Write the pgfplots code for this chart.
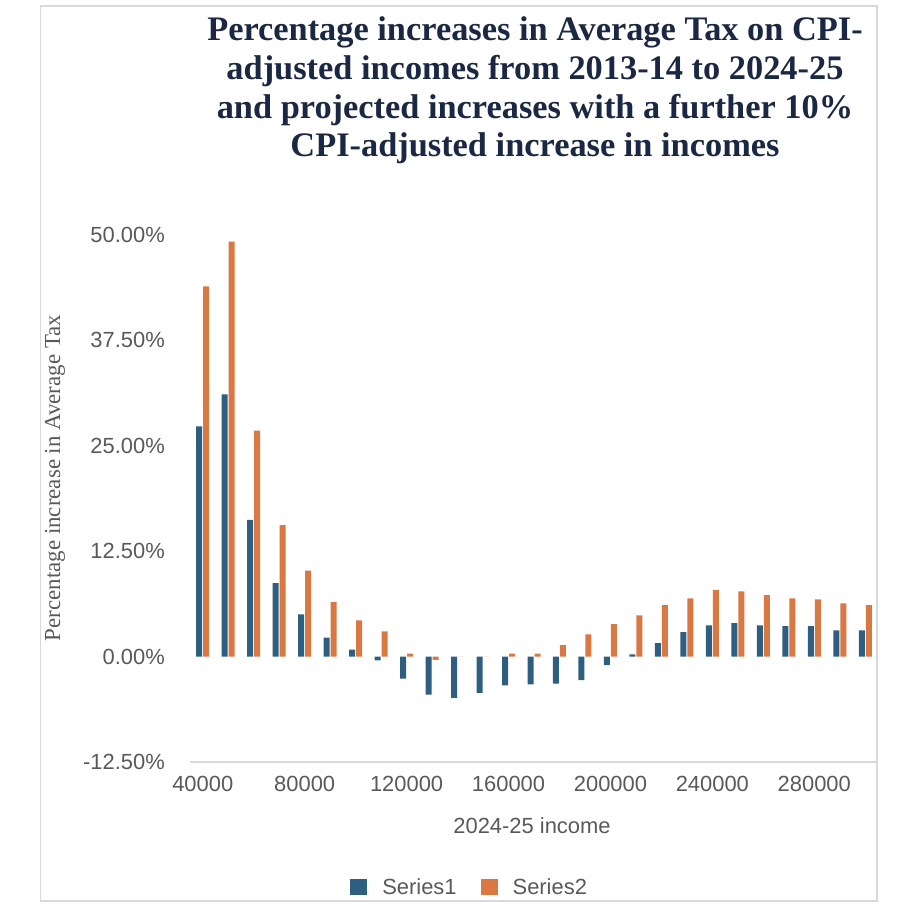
\documentclass[border=0pt]{standalone}
\usepackage{fontspec}
\setmainfont{Liberation Serif}
\newfontfamily\arial{Liberation Sans}
\usepackage{pgfplots}
\pgfplotsset{compat=1.18}
\usepackage{pgfplotstable}
\definecolor{sblue}{RGB}{46,95,128}
\definecolor{sorange}{RGB}{217,120,67}
\definecolor{tgrey}{RGB}{89,89,89}
\definecolor{lgrey}{RGB}{217,217,217}
\definecolor{navy}{RGB}{27,40,68}

\pgfplotstableread{
income s1 s2
40000 27.3 43.9
50000 31.1 49.2
60000 16.2 26.8
70000 8.7 15.6
80000 5.0 10.2
90000 2.26 6.5
100000 0.83 4.3
110000 -0.45 3.0
120000 -2.6 0.36
130000 -4.5 -0.4
140000 -4.9 0
150000 -4.3 0
160000 -3.4 0.36
170000 -3.3 0.36
180000 -3.2 1.35
190000 -2.8 2.65
200000 -1.0 3.84
210000 0.27 4.9
220000 1.6 6.1
230000 2.9 6.9
240000 3.7 7.9
250000 3.96 7.75
260000 3.7 7.3
270000 3.6 6.9
280000 3.6 6.8
290000 3.1 6.3
300000 3.1 6.1
}\datatable

\begin{document}
\begin{tikzpicture}
\useasboundingbox (0,0) rectangle (920bp,910bp);
\draw[lgrey, line width=1.5bp] (40.7bp,9bp) rectangle (877bp,904bp);
\begin{axis}[
  at={(190bp,148bp)}, anchor=south west,
  scale only axis, width=688bp, height=527bp,
  ybar=1bp, bar width=6bp,
  xmin=35000, xmax=305000, ymin=-12.5, ymax=50,
  enlargelimits=false,
  scaled x ticks=false, scaled y ticks=false,
  xtick={40000,80000,120000,160000,200000,240000,280000},
  xticklabels={40000,80000,120000,160000,200000,240000,280000},
  ytick={-12.5,0,12.5,25,37.5,50},
  yticklabels={-12.50\%,0.00\%,12.50\%,25.00\%,37.50\%,50.00\%},
  axis x line*=bottom, axis y line*=left,
  x axis line style={draw=lgrey, line width=2bp, -},
  y axis line style={draw=none},
  major tick length=0pt, tick style={draw=none},
  ticklabel style={font=\arial\fontsize{22}{24}\selectfont, text=tgrey},
  yticklabel style={inner sep=0pt, xshift=-25bp},
  xticklabel style={inner sep=0pt, yshift=-14bp},
  legend columns=2,
  legend style={at={(0.405,-0.237)}, anchor=center, draw=none, fill=none,
    font=\arial\fontsize{22}{24}\selectfont, text=tgrey,
    nodes={inner xsep=0pt},
    /tikz/every odd column/.append style={column sep=15bp},
    /tikz/every even column/.append style={column sep=24bp}},
  legend image code/.code={\fill[#1, draw=none] (0bp,-8bp) rectangle (17bp,8bp);},
]
\addplot[fill=sblue, draw=none] table[x=income, y=s1] {\datatable};
\addplot[fill=sorange, draw=none] table[x=income, y=s2] {\datatable};
\legend{Series1, Series2}
\end{axis}
\node[anchor=north, align=center, text=navy, font=\bfseries\fontsize{34.5}{39}\selectfont] at (535bp,897bp)
  {Percentage increases in Average Tax on CPI-\\adjusted incomes from 2013-14 to 2024-25\\and projected increases with a further 10\%\\CPI-adjusted increase in incomes};
\node[rotate=90, text=tgrey, font=\fontsize{23}{26}\selectfont] at (55bp,432bp) {Percentage increase in Average Tax};
\node[text=tgrey, font=\arial\fontsize{22}{24}\selectfont] at (532bp,84bp) {2024-25 income};
\end{tikzpicture}
\end{document}
